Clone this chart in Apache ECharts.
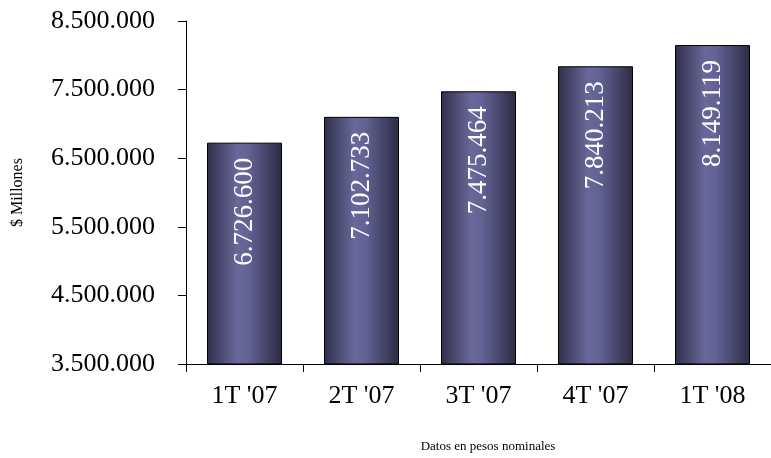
<!DOCTYPE html>
<html>
<head>
<meta charset="utf-8">
<script src="https://cdn.jsdelivr.net/npm/echarts@6/dist/echarts.min.js"></script>
<style>
  html, body { margin: 0; padding: 0; background: #fff; }
  #chart { width: 771px; height: 458px; }
</style>
</head>
<body>
<div id="chart"></div>
<script>
// Quarterly totals, in millions of pesos
const quarters = ["1T '07", "2T '07", "3T '07", "4T '07", "1T '08"];
const totals = [6726600, 7102733, 7475464, 7840213, 8149119];
const axisMin = 3500000;
const axisMax = 8500000;
const axisStep = 1000000;

const serif = '"Liberation Serif", "DejaVu Serif", serif';

// Thousands separated by dots
function fmt(v) {
  return String(Math.round(v)).replace(/\B(?=(\d{3})+(?!\d))/g, '.');
}

const barFill = new echarts.graphic.LinearGradient(0, 0, 1, 0, [
  { offset: 0, color: '#30304a' },
  { offset: 0.4, color: '#68689a' },
  { offset: 0.55, color: '#626294' },
  { offset: 1, color: '#2c2c44' }
]);

const chart = echarts.init(document.getElementById('chart'), null, { renderer: 'canvas' });
chart.setOption({
  animation: false,
  backgroundColor: '#ffffff',
  grid: { left: 186, top: 21, width: 590, height: 343 },
  graphic: [{
    type: 'text',
    x: 488,
    y: 447,
    style: {
      text: 'Datos en pesos nominales',
      font: '13px ' + serif,
      fill: '#000',
      textAlign: 'center',
      textVerticalAlign: 'middle'
    }
  }],
  xAxis: {
    type: 'category',
    data: quarters,
    axisLine: { lineStyle: { color: '#000', width: 1 } },
    axisTick: { show: true, length: 8, alignWithLabel: false, lineStyle: { color: '#000' } },
    axisLabel: { color: '#000', fontFamily: serif, fontSize: 26, margin: 19 }
  },
  yAxis: {
    type: 'value',
    min: axisMin,
    max: axisMax,
    interval: axisStep,
    name: '$ Millones',
    nameLocation: 'middle',
    nameGap: 160,
    nameRotate: 90,
    nameTextStyle: { color: '#000', fontFamily: serif, fontSize: 16 },
    splitLine: { show: false },
    axisLine: { show: true, lineStyle: { color: '#000', width: 1 } },
    axisTick: { show: true, length: 8, lineStyle: { color: '#000' } },
    axisLabel: { color: '#000', fontFamily: serif, fontSize: 26, margin: 31, formatter: fmt }
  },
  series: [{
    type: 'bar',
    data: totals,
    barWidth: 75,
    itemStyle: { color: barFill, borderColor: '#000', borderWidth: 1 },
    label: {
      show: true,
      position: 'insideTop',
      rotate: 90,
      align: 'right',
      verticalAlign: 'middle',
      distance: 15,
      color: '#ffffff',
      fontFamily: serif,
      fontSize: 27,
      formatter: p => fmt(p.value)
    }
  }]
});
</script>
</body>
</html>
